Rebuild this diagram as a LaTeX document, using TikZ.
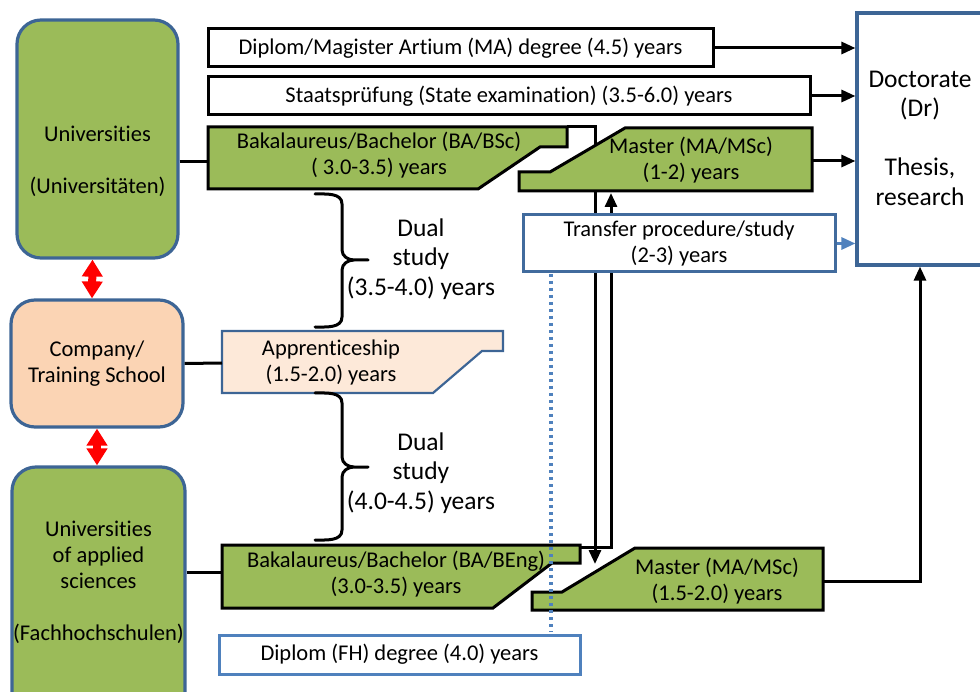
\documentclass[tikz,border=0pt]{standalone}
\usepackage{fontspec}
\setmainfont{Carlito}[Ligatures=NoCommon]
\usetikzlibrary{arrows.meta}
\definecolor{uniGreen}{HTML}{9BBB59}
\definecolor{frameBlue}{HTML}{3D6595}
\definecolor{lineBlue}{HTML}{4F81BD}
\definecolor{compPeach}{HTML}{FBD4B4}
\definecolor{apprPeach}{HTML}{FDE9D9}
\tikzset{
  txt/.style={align=center, font=\fontsize{22.5}{26}\selectfont, inner sep=0pt},
  bigtxt/.style={align=center, font=\fontsize{25.5}{29.5}\selectfont, inner sep=0pt},
  instbox/.style={draw=frameBlue, line width=3.2pt, rounded corners=24pt, inner sep=0pt},
  degreebox/.style={txt, draw, line width=3pt, fill=white},
  bluebox/.style={txt, draw=lineBlue, line width=3pt, fill=white},
  greenpoly/.style={draw, line width=3pt, fill=uniGreen},
  link/.style={line width=3pt},
  arr/.style={link, -{Triangle[length=14pt,width=12pt]}},
  redarr/.style={red, line width=8pt, arrows={Triangle[length=17pt,width=20pt]-Triangle[length=17pt,width=20pt]}},
  dualbrace/.style={line width=3pt, line cap=round}
}
\begin{document}
\begin{tikzpicture}[x=1pt, y=-1pt]
	\useasboundingbox (0,0) rectangle (980,692);
	\clip (0,0) rectangle (980,692);
	% connection points on the shapes
	\coordinate (bscW) at (208,162);
	\coordinate (bscNE) at (567,127);
	\coordinate (muE) at (812,161);
	\coordinate (muS) at (611,193);
	\coordinate (apprW) at (222,363);
	\coordinate (bengW) at (222,572);
	\coordinate (bengNE) at (580,547);
	\coordinate (mfhN) at (595,564);
	\coordinate (mfhE) at (823,581);
	\coordinate (dotA) at (551,274);
	\coordinate (dotB) at (551,632);
	% long crossing lines (behind the boxes)
	\draw[arr] (bscNE) -| (mfhN);
	\draw[arr] (bengNE) -| (muS);
	% institutions
	\node[instbox, fill=uniGreen, minimum width=161, minimum height=238] (univ) at (97.5,139) {};
	\node[txt] (univtxt) at (97.5,161) {Universities\\~\\(Universitäten)};
	\node[instbox, fill=compPeach, minimum width=172, minimum height=127, txt] (comp) at (97,363.5) {Company/\\Training School};
	\node[instbox, fill=uniGreen, minimum width=173, minimum height=300] (uas) at (98.5,617) {};
	\node[txt] (uastxt) at (98.5,582) {Universities\\of applied\\sciences\\~\\(Fachhochschulen)};
	\node[draw=frameBlue, line width=3.2pt, fill=white, minimum width=160, minimum height=252] (doc) at (937,139) {};
	\node[bigtxt] (doctxt) at (920,138) {Doctorate\\(Dr)\\~\\Thesis,\\research};
	% degree courses
	\node[degreebox, minimum width=505, minimum height=38] (dipl) at (460.5,48) {Diplom/Magister Artium (MA) degree (4.5) years};
	\node[degreebox, minimum width=602, minimum height=38] (staat) at (509,96) {Staatsprüfung (State examination) (3.5-6.0) years};
	\draw[greenpoly] (208,127) -- (567,127) -- (567,147) -- (540,147) -- (478,189) -- (208,189) -- cycle;
	\node[txt] (bsc) at (379,155) {Bakalaureus/Bachelor (BA/BSc)\\( 3.0-3.5) years};
	\draw[greenpoly] (519,191) -- (519,172) -- (550,172) -- (625,128) -- (812,128) -- (812,191) -- cycle;
	\node[txt] (mu) at (691,160) {Master (MA/MSc)\\(1-2) years};
	\node[bluebox, draw=frameBlue!80!lineBlue, minimum width=312, minimum height=57] (trans) at (679,243.5) {Transfer procedure/study\\(2-3) years};
	\draw[draw=frameBlue, line width=2.2pt, fill=apprPeach] (222,331) -- (503,331) -- (503,351) -- (482,351) -- (433,393) -- (222,393) -- cycle;
	\node[txt] (appr) at (331,363) {Apprenticeship\\(1.5-2.0) years};
	\draw[greenpoly] (222,545) -- (580,545) -- (580,563) -- (552,563) -- (493,608) -- (222,608) -- cycle;
	\node[txt] (beng) at (396,574) {Bakalaureus/Bachelor (BA/BEng)\\(3.0-3.5) years};
	\draw[greenpoly] (532,610) -- (532,592) -- (562,592) -- (635,548) -- (823,548) -- (823,610) -- cycle;
	\node[txt] (mfh) at (717,581) {Master (MA/MSc)\\(1.5-2.0) years};
	\node[bluebox, minimum width=361, minimum height=39] (fh) at (399.5,654.5) {Diplom (FH) degree (4.0) years};
	% dual study braces
	\foreach \t/\m/\b in {194/260/327, 393/467/540}
		\draw[dualbrace] (315,\t) to[out=0,in=90] (342,\t+10) -- (342,\m-10) to[out=-90,in=180] (354,\m) -- (368,\m)
			(354,\m) to[out=180,in=90] (342,\m+10) -- (342,\b-10) to[out=-90,in=0] (315,\b);
	\node[bigtxt] (dual1) at (421,259) {Dual\\study\\(3.5-4.0) years};
	\node[bigtxt] (dual2) at (421,473) {Dual\\study\\(4.0-4.5) years};
	% connectors
	\draw[link] (univ.east |- bscW) -- (bscW);
	\draw[link] (comp.east) -- (apprW);
	\draw[link] (uas.east |- bengW) -- (bengW);
	\draw[redarr] ([xshift=-5pt]univ.south) -- ([xshift=-5pt]comp.north);
	\draw[redarr] (comp.south) -- (comp.south |- uas.north);
	\draw[arr] (dipl.east) -- (dipl.east -| doc.west);
	\draw[arr] (staat.east) -- (staat.east -| doc.west);
	\draw[arr] (muE) -- (muE -| doc.west);
	\draw[arr, lineBlue] (trans.east) -- (trans.east -| doc.west);
	\draw[arr] (mfhE) -| (doctxt.center |- doc.south);
	\draw[lineBlue, line width=3.5pt, dash pattern=on 3pt off 4pt] (dotA) -- (dotB);
\end{tikzpicture}
\end{document}
